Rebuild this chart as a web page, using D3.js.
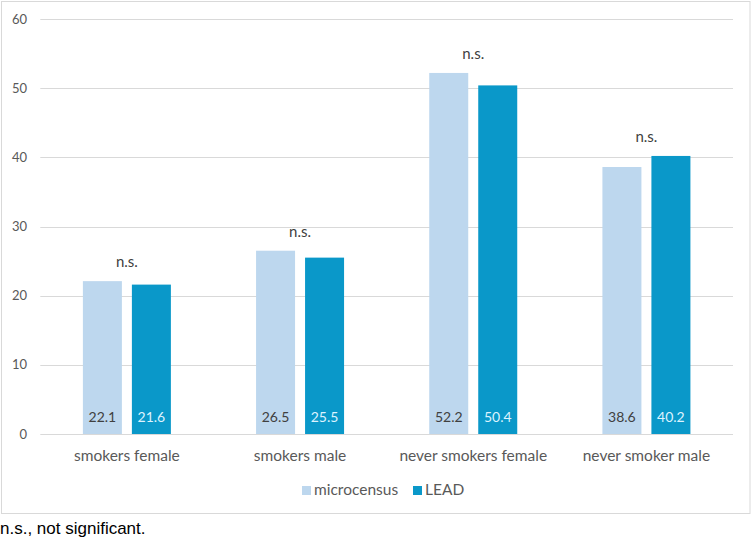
<!DOCTYPE html>
<html>
<head>
<meta charset="utf-8">
<script src="https://cdn.jsdelivr.net/npm/d3@7"></script>
<style>
  html, body { margin: 0; padding: 0; background: #fff; }
  svg { display: block; }
</style>
</head>
<body>
<svg id="chart" width="753" height="542"></svg>
<script>
const categories = ["smokers female", "smokers male", "never smokers female", "never smoker male"];
const seriesNames = ["microcensus", "LEAD"];
const microcensus = [22.1, 26.5, 52.2, 38.6];
const lead = [21.6, 25.5, 50.4, 40.2];
const significance = ["n.s.", "n.s.", "n.s.", "n.s."];
const yTicks = [0, 10, 20, 30, 40, 50, 60];
const colors = ["#BDD7EE", "#0A98C9"];
const labelColors = ["#404040", "#DDF3FF"];

const svg = d3.select("#chart");
const m = { left: 40.3, right: 733, top: 19, bottom: 434 };
const font = "Lato, 'Open Sans', sans-serif";

// outer frame
svg.append("rect").attr("x", 1.5).attr("y", 1.5).attr("width", 748.5).attr("height", 512)
  .attr("fill", "#fff").attr("stroke", "#D9D9D9").attr("stroke-width", 1);

const x = d3.scaleBand().domain(categories).range([m.left, m.right]).paddingInner(0).paddingOuter(0);
const y = d3.scaleLinear().domain([0, 60]).range([m.bottom, m.top]);
const groupW = 88;
const x1 = d3.scaleBand().domain(seriesNames).range([0, groupW]).paddingInner(10 / 49);

// grid lines
svg.append("g").selectAll("line").data(yTicks).join("line")
  .attr("x1", m.left).attr("x2", m.right)
  .attr("y1", d => Math.round(y(d)) + 0.5).attr("y2", d => Math.round(y(d)) + 0.5)
  .attr("stroke", "#D9D9D9").attr("stroke-width", 1);

// y tick labels
svg.append("g").selectAll("text").data(yTicks).join("text")
  .attr("x", 27).attr("y", d => y(d) + 4.5)
  .attr("text-anchor", "end")
  .attr("font-family", font).attr("font-size", 13).attr("fill", "#595959")
  .text(d => d);

const seriesData = [microcensus, lead];
const g = svg.append("g");
categories.forEach((c, i) => {
  const cx = x(c) + x.bandwidth() / 2;
  const gx = cx - groupW / 2;
  seriesNames.forEach((s, j) => {
    const v = seriesData[j][i];
    const bx = gx + x1(s);
    g.append("rect")
      .attr("x", bx).attr("y", y(v))
      .attr("width", x1.bandwidth()).attr("height", y(0) - y(v))
      .attr("fill", colors[j]);
    g.append("text")
      .attr("x", bx + x1.bandwidth() / 2).attr("y", 422)
      .attr("text-anchor", "middle")
      .attr("font-family", font).attr("font-size", 14).attr("fill", labelColors[j])
      .text(v.toFixed(1));
  });
  const maxV = Math.max(microcensus[i], lead[i]);
  g.append("text")
    .attr("x", cx).attr("y", y(maxV) - 14)
    .attr("text-anchor", "middle")
    .attr("font-family", font).attr("font-size", 15).attr("fill", "#404040")
    .text(significance[i]);
  g.append("text")
    .attr("x", cx).attr("y", 461)
    .attr("text-anchor", "middle")
    .attr("font-family", font).attr("font-size", 15.5).attr("fill", "#595959")
    .text(c);
});

// legend
const legend = svg.append("g");
const legendItems = [{ name: seriesNames[0], x: 302 }, { name: seriesNames[1], x: 413 }];
legendItems.forEach((d, j) => {
  legend.append("rect").attr("x", d.x).attr("y", 486).attr("width", 9).attr("height", 9).attr("fill", colors[j]);
  legend.append("text").attr("x", d.x + 12).attr("y", 495)
    .attr("font-family", font).attr("font-size", 15.5).attr("fill", "#595959")
    .text(d.name);
});

// footnote
svg.append("text").attr("x", 0).attr("y", 534)
  .attr("font-family", "'Liberation Sans', Arial, sans-serif").attr("font-size", 17).attr("fill", "#000")
  .text("n.s., not significant.");
</script>
</body>
</html>
